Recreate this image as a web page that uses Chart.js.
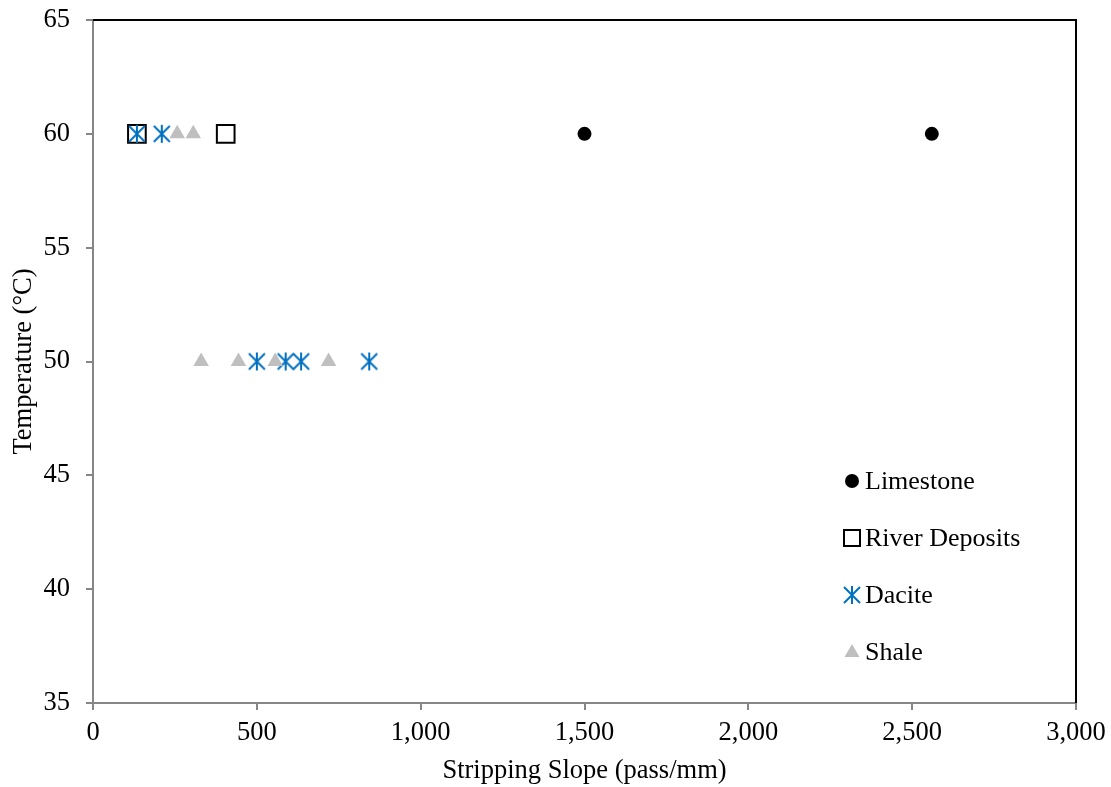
<!DOCTYPE html>
<html>
<head>
<meta charset="utf-8">
<script src="https://cdn.jsdelivr.net/npm/chart.js@4/dist/chart.umd.min.js"></script>
<style>
  html, body { margin: 0; padding: 0; background: #fff; }
  #wrap { width: 1111px; height: 787px; }
</style>
</head>
<body>
<div id="wrap"><canvas id="scatterChart" width="1111" height="787"></canvas></div>
<script>
// Data: stripping slope (pass/mm) vs temperature
const seriesNames = ['Limestone', 'River Deposits', 'Dacite', 'Shale'];
const limestoneX = [1500, 2560];
const limestoneY = [60, 60];
const riverX = [134, 405];
const riverY = [60, 60];
const daciteX = [134, 210, 500, 588, 635, 843];
const daciteY = [60, 60, 50, 50, 50, 50];
const shaleX = [257, 306, 330, 444, 556, 719];
const shaleY = [60, 60, 50, 50, 50, 50];
const xTicks = [0, 500, 1000, 1500, 2000, 2500, 3000];
const yTicks = [35, 40, 45, 50, 55, 60, 65];

const toPoints = (xs, ys) => xs.map((x, i) => ({ x: x, y: ys[i] }));

const FONT = "'Liberation Serif', 'Times New Roman', serif";
const FS = 26.5;
const BLUE = '#0070C0';
const GREY = '#BFBFBF';
const AXIS = '#868686';

// asterisk marker: vertical line plus an X
function makeAsterisk(size) {
    const c = document.createElement('canvas');
    c.width = size; c.height = size;
    const g = c.getContext('2d');
    g.strokeStyle = BLUE;
    g.lineWidth = 2;
    const m = size / 2;
    g.beginPath();
    g.moveTo(m, 1); g.lineTo(m, size - 1);
    g.moveTo(2, 2); g.lineTo(size - 2, size - 2);
    g.moveTo(size - 2, 2); g.lineTo(2, size - 2);
    g.stroke();
    return c;
}
const asterisk = makeAsterisk(20);

// frame on top and right side
const framePlugin = {
    id: 'frame',
    afterDraw(chart) {
        const a = chart.chartArea, ctx = chart.ctx;
        ctx.save();
        ctx.strokeStyle = '#000';
        ctx.lineWidth = 2;
        ctx.beginPath();
        ctx.moveTo(a.left, a.top);
        ctx.lineTo(a.right, a.top);
        ctx.lineTo(a.right, a.bottom);
        ctx.stroke();
        ctx.restore();
    }
};

// legend drawn inside the plot area
const legendPlugin = {
    id: 'innerLegend',
    afterDraw(chart) {
        const ctx = chart.ctx;
        const mx = 852, tx = 865, y0 = 481, gap = 57;
        ctx.save();
        ctx.font = '26px ' + FONT;
        ctx.textBaseline = 'middle';
        ctx.fillStyle = '#000';
        seriesNames.forEach((name, i) => {
            const y = y0 + i * gap;
            if (i === 0) {
                ctx.beginPath();
                ctx.arc(mx, y, 7, 0, Math.PI * 2);
                ctx.fill();
            } else if (i === 1) {
                ctx.strokeStyle = '#000';
                ctx.lineWidth = 2;
                ctx.strokeRect(mx - 8, y - 8, 16, 16);
            } else if (i === 2) {
                ctx.drawImage(asterisk, mx - 10, y - 10);
            } else {
                ctx.fillStyle = GREY;
                ctx.beginPath();
                ctx.moveTo(mx, y - 8);
                ctx.lineTo(mx + 7.5, y + 5);
                ctx.lineTo(mx - 7.5, y + 5);
                ctx.closePath();
                ctx.fill();
                ctx.fillStyle = '#000';
            }
            ctx.fillText(name, tx, y + 1);
        });
        ctx.restore();
    }
};

const ctx = document.getElementById('scatterChart').getContext('2d');
new Chart(ctx, {
    type: 'scatter',
    data: {
        datasets: [
            {
                label: seriesNames[0],
                data: toPoints(limestoneX, limestoneY),
                pointStyle: 'circle',
                pointRadius: 7,
                backgroundColor: '#000',
                borderColor: '#000',
                borderWidth: 0,
                order: 3
            },
            {
                label: seriesNames[1],
                data: toPoints(riverX, riverY),
                pointStyle: 'rect',
                pointRadius: 12.5,
                backgroundColor: 'rgba(0,0,0,0)',
                borderColor: '#000',
                borderWidth: 2,
                order: 2
            },
            {
                label: seriesNames[2],
                data: toPoints(daciteX, daciteY),
                pointStyle: asterisk,
                pointRadius: 10,
                backgroundColor: BLUE,
                borderColor: BLUE,
                order: 1
            },
            {
                label: seriesNames[3],
                data: toPoints(shaleX, shaleY),
                pointStyle: 'triangle',
                pointRadius: 9,
                backgroundColor: GREY,
                borderColor: GREY,
                borderWidth: 0,
                order: 0
            }
        ]
    },
    plugins: [framePlugin, legendPlugin],
    options: {
        responsive: false,
        animation: false,
        locale: 'en-US',
        layout: { padding: { top: 20, right: 35, left: 0, bottom: 0 } },
        plugins: {
            legend: { display: false },
            tooltip: { enabled: false }
        },
        scales: {
            x: {
                type: 'linear',
                min: 0,
                max: 3000,
                afterFit(scale) {
                    scale.height = 84;
                    scale.paddingLeft = 0;
                    scale.paddingRight = 0;
                },
                afterBuildTicks(scale) { scale.ticks = xTicks.map(v => ({ value: v })); },
                grid: { drawOnChartArea: false, drawTicks: true, tickLength: 7, color: AXIS, lineWidth: 2 },
                border: { color: AXIS, width: 2 },
                ticks: { color: '#000', font: { family: FONT, size: FS }, padding: 7, maxRotation: 0 },
                title: {
                    display: true,
                    text: 'Stripping Slope (pass/mm)',
                    color: '#000',
                    font: { family: FONT, size: FS },
                    padding: { top: 0, bottom: 0 }
                }
            },
            y: {
                type: 'linear',
                min: 35,
                max: 65,
                afterFit(scale) {
                    scale.width = 93;
                    scale.paddingTop = 0;
                    scale.paddingBottom = 0;
                },
                afterBuildTicks(scale) { scale.ticks = yTicks.map(v => ({ value: v })); },
                grid: { drawOnChartArea: false, drawTicks: true, tickLength: 7, color: AXIS, lineWidth: 2 },
                border: { color: AXIS, width: 2 },
                ticks: { color: '#000', font: { family: FONT, size: FS }, padding: 16 },
                title: {
                    display: true,
                    text: 'Temperature (°C)',
                    color: '#000',
                    font: { family: FONT, size: FS },
                    padding: { top: 8, bottom: 0 }
                }
            }
        }
    }
});
</script>
</body>
</html>
